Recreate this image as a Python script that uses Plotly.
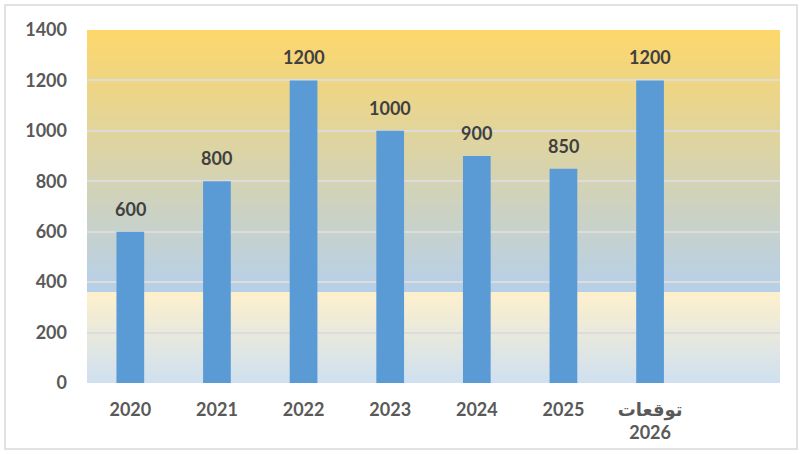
import plotly.graph_objects as go

categories = ["2020", "2021", "2022", "2023", "2024", "2025", "توقعات<br>2026"]
values = [600, 800, 1200, 1000, 900, 850, 1200]
y_ticks = [0, 200, 400, 600, 800, 1000, 1200, 1400]

FONT = "Lato, 'DejaVu Sans', sans-serif"

def lerp(c1, c2, t):
    return "rgb(%d,%d,%d)" % tuple(round(a + (b - a) * t) for a, b in zip(c1, c2))

def gradient(y0, y1, c_top, c_bot, n):
    out = []
    step = (y1 - y0) / n
    for i in range(n):
        a = y0 + step * i
        b = min(y1, a + step * 1.6)
        t = 1 - (i + 0.5) / n
        out.append(dict(type="rect", xref="paper", yref="y", x0=0, x1=1, y0=a, y1=b,
                        fillcolor=lerp(c_top, c_bot, t), line=dict(width=0), layer="below"))
    return out

shapes = []
shapes += gradient(361, 1400, (253, 215, 106), (182, 208, 234), 90)
shapes += gradient(0, 361, (254, 240, 204), (207, 224, 240), 40)

W, H = 804, 454
ml, mr, mt, mb = 87, 24, 30, 71
pw, ph = W - ml - mr, H - mt - mb
# outer border of chart
bx0, bx1, by0, by1 = 5, 797, 5, 449
shapes.append(dict(type="rect", xref="paper", yref="paper",
                   x0=(bx0 - ml) / pw, x1=(bx1 - ml) / pw,
                   y0=(H - mb - by1) / ph, y1=(H - mb - by0) / ph,
                   line=dict(color="#D9D9D9", width=1.5), fillcolor="rgba(0,0,0,0)", layer="above"))

fig = go.Figure()
fig.add_trace(go.Bar(x=categories, y=values, marker=dict(color="#5B9BD5", line=dict(width=0)),
                     width=0.32, hoverinfo="skip"))

annotations = []
for i, v in enumerate(values):
    annotations.append(dict(x=i, y=v, xref="x", yref="y", text=str(v), showarrow=False,
                            yshift=23, font=dict(family=FONT, size=18, color="#404040", weight="bold")))

fig.update_layout(
    width=W, height=H,
    margin=dict(l=ml, r=mr, t=mt, b=mb, autoexpand=False),
    paper_bgcolor="white",
    plot_bgcolor="white",
    showlegend=False,
    shapes=shapes,
    annotations=annotations,
    xaxis=dict(type="category", range=[-0.5, 7.5], showgrid=False, zeroline=False,
               showline=False, ticks="", ticklabelstandoff=14,
               tickfont=dict(family=FONT, size=18, color="#595959", weight="bold")),
    yaxis=dict(range=[0, 1400], tickvals=y_ticks, showgrid=True, gridcolor="#DCDCDC",
               gridwidth=1.5, zeroline=False, showline=False, ticks="",
               ticklabelstandoff=19,
               tickfont=dict(family=FONT, size=18, color="#595959", weight="bold")),
)

fig.write_html("out.html",
               config={"displayModeBar": False},
               post_script="document.body.style.margin='0';document.body.style.overflow='hidden';")
